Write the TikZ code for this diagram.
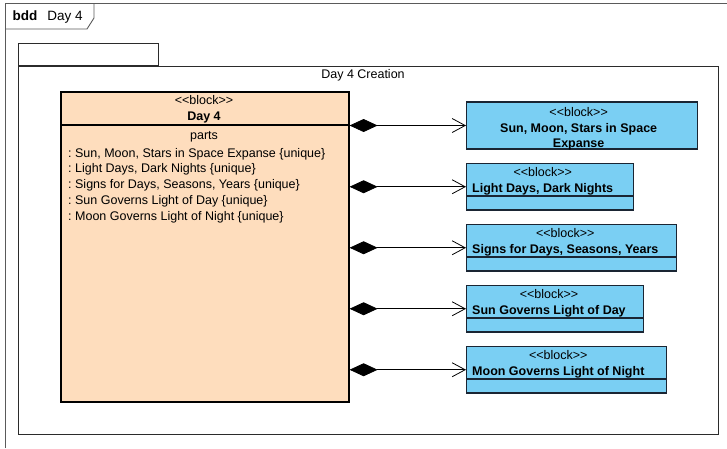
\documentclass[tikz,border=0pt]{standalone}
\usepackage{fontspec}
\setmainfont{Liberation Sans}
\usepackage{xcolor}
\definecolor{cPeach}{HTML}{FEDDBD}
\definecolor{cSky}{HTML}{7ACFF3}
\definecolor{cEdge}{HTML}{1A2533}
\definecolor{cFrame}{HTML}{5A5A5A}
\definecolor{cBox}{HTML}{2B2B2B}
\usetikzlibrary{positioning,arrows.meta,calc}
\newcommand{\stblock}{<{}<block>{}>}
\frenchspacing
\tikzset{
  frame-outer/.style={draw=cFrame,line width=0.9pt},
  container/.style={draw=cBox,line width=0.9pt},
  block-main/.style={draw=black,line width=1.6pt,fill=cPeach},
  block-part/.style={draw=cEdge,line width=1.3pt,fill=cSky,
    minimum height=46.5pt,anchor=west},
  % name compartment / empty compartment
  part-div/.style={path picture={\draw[cEdge,line width=1.2pt]
    ([yshift=14pt]path picture bounding box.south west) --
    ([yshift=14pt]path picture bounding box.south east);}},
  part-name/.style={align=center,anchor=west},
  compose/.style={{Diamond[length=28pt,width=13pt]}-{Straight Barb[length=13pt,width=14pt]},
    line width=0.8pt,draw=black},
}
\begin{document}
\begin{tikzpicture}[x=1pt,y=-1pt,inner sep=0pt,font=\fontsize{12.5}{15.7}\selectfont]
  \useasboundingbox (0,0) rectangle (727,448);
  % bdd frame
  \draw[frame-outer] (5,448) -- (5,3) -- (727,3);
  \draw[frame-outer] (5,29) -- (87,29) -- (94,18) -- (94,3);
  \node[anchor=west,font=\fontsize{13.5}{15}\selectfont] (bdd) at (12.5,17) {\textbf{bdd}\hspace{10pt}Day 4};
  % Day 4 Creation
  \node[container,minimum width=700pt,minimum height=368pt,anchor=north west] (cont) at (18,66) {};
  \node[container,minimum width=140pt,minimum height=22pt,anchor=south west] (cont-tab) at (cont.north west) {};
  \node (cont-title) at (363,75.5) {Day 4 Creation};
  % whole
  \node[block-main,minimum width=288pt,minimum height=310pt,anchor=north west] (d4) at (60,91) {};
  \draw[black,line width=1.2pt] (d4.west |- 0,125) -- (d4.east |- 0,125);
  \node[align=center] (d4-title) at (204,109.5) {\stblock\\\textbf{Day 4}};
  \node (d4-parts) at (204,136.5) {parts};
  \node[align=left,anchor=north west] (d4-list) at (68,148) {: Sun, Moon, Stars in Space Expanse \{unique\}\\
    : Light Days, Dark Nights \{unique\}\\
    : Signs for Days, Seasons, Years \{unique\}\\
    : Sun Governs Light of Day \{unique\}\\
    : Moon Governs Light of Night \{unique\}};
  % parts
  \node[block-part,minimum width=231pt,minimum height=47pt] (b1) at (466,125.5) {};
  \node[block-part,part-div,minimum width=167pt,below=13.2pt of b1.south west,anchor=north west] (b2) {};
  \node[block-part,part-div,minimum width=210pt,below=13.2pt of b2.south west,anchor=north west] (b3) {};
  \node[block-part,part-div,minimum width=177pt,below=13.2pt of b3.south west,anchor=north west] (b4) {};
  \node[block-part,part-div,minimum width=200pt,below=13.2pt of b4.south west,anchor=north west] (b5) {};
  \node[align=center] (b1-t) at ([shift={(-3.5pt,-3.5pt)}]b1.center) {\stblock\\\textbf{Sun, Moon, Stars in Space}\\\textbf{Expanse}};
  \node[part-name] (b2-t) at ([shift={(6pt,5.5pt)}]b2.west) {\stblock\\\textbf{Light Days, Dark Nights}};
  \node[part-name] (b3-t) at ([shift={(6pt,5.5pt)}]b3.west) {\stblock\\\textbf{Signs for Days, Seasons, Years}};
  \node[part-name] (b4-t) at ([shift={(6pt,5.5pt)}]b4.west) {\stblock\\\textbf{Sun Governs Light of Day}};
  \node[part-name] (b5-t) at ([shift={(6pt,5.5pt)}]b5.west) {\stblock\\\textbf{Moon Governs Light of Night}};
  \draw[compose] (d4.east |- b1.west) -- (b1.west);
  \draw[compose] (d4.east |- b2.west) -- (b2.west);
  \draw[compose] (d4.east |- b3.west) -- (b3.west);
  \draw[compose] (d4.east |- b4.west) -- (b4.west);
  \draw[compose] (d4.east |- b5.west) -- (b5.west);
\end{tikzpicture}
\end{document}
